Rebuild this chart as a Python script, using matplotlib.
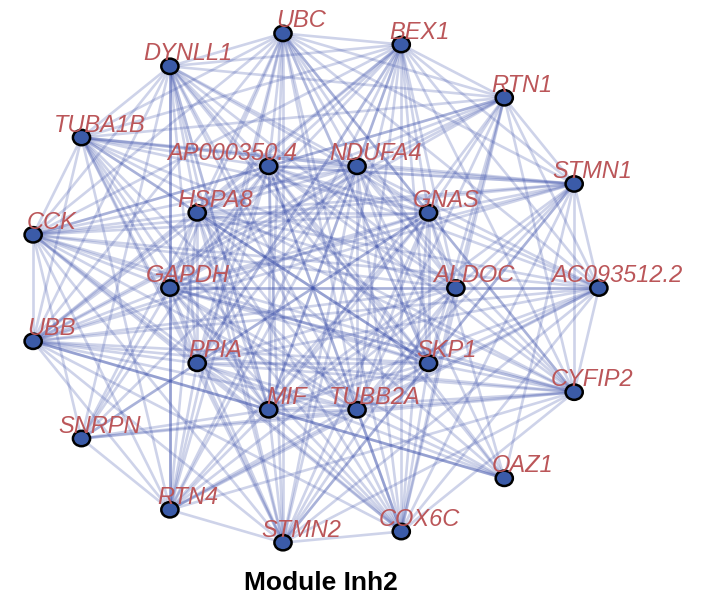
import numpy as np
import matplotlib
matplotlib.use('Agg')
import matplotlib.pyplot as plt
from matplotlib.collections import LineCollection
from matplotlib.patches import Circle

# genes on the outer ring, counter-clockwise from 3 o'clock
outer_genes = ['AC093512.2', 'STMN1', 'RTN1', 'BEX1', 'UBC', 'DYNLL1', 'TUBA1B', 'CCK',
               'UBB', 'SNRPN', 'RTN4', 'STMN2', 'COX6C', 'OAZ1', 'CYFIP2']
# genes on the inner ring
inner_genes = ['ALDOC', 'GNAS', 'NDUFA4', 'AP000350.4', 'HSPA8', 'GAPDH', 'PPIA', 'MIF',
               'TUBB2A', 'SKP1']

# links (inner genes are all linked to each other)
links = {
    'UBC': ['BEX1', 'DYNLL1', 'RTN1', 'STMN1', 'AC093512.2', 'CYFIP2', 'TUBA1B', 'CCK', 'UBB',
            'STMN2', 'COX6C', 'RTN4', 'NDUFA4', 'AP000350.4', 'HSPA8', 'GNAS', 'GAPDH', 'PPIA',
            'MIF', 'TUBB2A', 'SKP1', 'ALDOC'],
    'BEX1': ['DYNLL1', 'RTN1', 'STMN1', 'AC093512.2', 'CYFIP2', 'TUBA1B', 'CCK', 'UBB', 'COX6C',
             'STMN2', 'RTN4'] + inner_genes,
    'RTN1': ['DYNLL1', 'STMN1', 'AC093512.2', 'CYFIP2', 'TUBA1B', 'CCK', 'UBB', 'COX6C', 'NDUFA4',
             'AP000350.4', 'GNAS', 'HSPA8', 'ALDOC', 'SKP1', 'GAPDH', 'MIF', 'TUBB2A'],
    'STMN1': ['AC093512.2', 'CYFIP2', 'CCK', 'TUBA1B', 'UBB', 'COX6C', 'STMN2', 'OAZ1', 'NDUFA4',
              'GNAS', 'ALDOC', 'SKP1', 'HSPA8', 'AP000350.4', 'GAPDH', 'TUBB2A', 'MIF'],
    'AC093512.2': ['CYFIP2', 'CCK', 'UBB', 'STMN2', 'RTN4', 'COX6C', 'GNAS', 'ALDOC', 'SKP1',
                   'NDUFA4', 'GAPDH', 'HSPA8', 'AP000350.4', 'PPIA', 'TUBB2A', 'MIF'],
    'CYFIP2': ['UBB', 'CCK', 'TUBA1B', 'COX6C', 'STMN2', 'RTN4', 'SNRPN', 'SKP1', 'ALDOC', 'GNAS',
               'TUBB2A', 'MIF', 'PPIA', 'GAPDH', 'HSPA8', 'NDUFA4', 'AP000350.4'],
    'OAZ1': ['MIF', 'PPIA', 'AP000350.4', 'HSPA8', 'NDUFA4', 'GNAS', 'TUBB2A', 'GAPDH', 'UBB',
             'DYNLL1'],
    'COX6C': ['STMN2', 'UBB', 'CCK', 'TUBA1B', 'DYNLL1'] + inner_genes,
    'STMN2': ['RTN4', 'UBB', 'CCK', 'TUBA1B', 'DYNLL1'] + inner_genes,
    'RTN4': ['DYNLL1', 'UBB', 'CCK', 'TUBA1B', 'SNRPN'] + inner_genes,
    'SNRPN': ['CCK', 'DYNLL1', 'PPIA', 'HSPA8', 'AP000350.4', 'GAPDH', 'MIF', 'NDUFA4', 'TUBB2A',
              'GNAS'],
    'UBB': ['CCK', 'TUBA1B', 'DYNLL1'] + inner_genes,
    'CCK': ['TUBA1B', 'DYNLL1'] + inner_genes,
    'TUBA1B': ['DYNLL1'] + inner_genes,
    'DYNLL1': inner_genes,
}
for i, g in enumerate(inner_genes):
    links.setdefault(g, [])
    links[g] = links[g] + inner_genes[i + 1:]

# the few darker (stronger) links
strong_links = [('UBB', 'MIF'), ('TUBA1B', 'NDUFA4'), ('AP000350.4', 'STMN1'), ('MIF', 'OAZ1'),
                ('TUBB2A', 'COX6C'), ('GAPDH', 'CYFIP2'), ('HSPA8', 'SKP1'), ('DYNLL1', 'MIF'),
                ('BEX1', 'PPIA'), ('UBC', 'SKP1'), ('DYNLL1', 'RTN4')]

title = 'Module Inh2'

# circle layout, two rings
pos = {}
for k, g in enumerate(outer_genes):
    a = np.deg2rad(24 * k)
    pos[g] = (np.cos(a), np.sin(a))
for k, g in enumerate(inner_genes):
    a = np.deg2rad(36 * k)
    pos[g] = (0.5 * np.cos(a), 0.5 * np.sin(a))

edges = set()
for g, nbrs in links.items():
    for h in nbrs:
        if h != g:
            edges.add(frozenset((g, h)))
strong = {frozenset(e) for e in strong_links}
weak_segs = [[pos[a], pos[b]] for a, b in (tuple(e) for e in edges if e not in strong)]
strong_segs = [[pos[a], pos[b]] for a, b in (tuple(e) for e in edges if e in strong)]

fig = plt.figure(figsize=(7.05, 6.05), dpi=100)
ax = fig.add_axes([0, 0, 1, 1])
ax.set_xlim(-1.094, 1.371)
ax.set_ylim(-1.238, 1.125)
ax.axis('off')

ax.add_collection(LineCollection(weak_segs, colors='#3c50aa', alpha=0.25, linewidths=1.9,
                                 zorder=1))
ax.add_collection(LineCollection(strong_segs, colors='#3c50aa', alpha=0.38, linewidths=2.0,
                                 zorder=1))

label_dx = {'AP000350.4': -26}
for g, (x, y) in pos.items():
    ax.add_patch(Circle((x, y), 0.03, facecolor='#3b5ba8', edgecolor='black', linewidth=1.8,
                        zorder=3))
    ax.annotate(g, (x, y), xytext=(label_dx.get(g, 13), 4.3), textcoords='offset points',
                ha='center', va='baseline', fontsize=17, fontstyle='italic',
                family='Liberation Sans', color='#bb5659', zorder=4)

fig.text(321 / 705, 1 - 583 / 605, title, ha='center', va='center', fontsize=19,
         fontweight='bold', family='Liberation Sans')

plt.savefig('out.png', dpi=100)
plt.close()
